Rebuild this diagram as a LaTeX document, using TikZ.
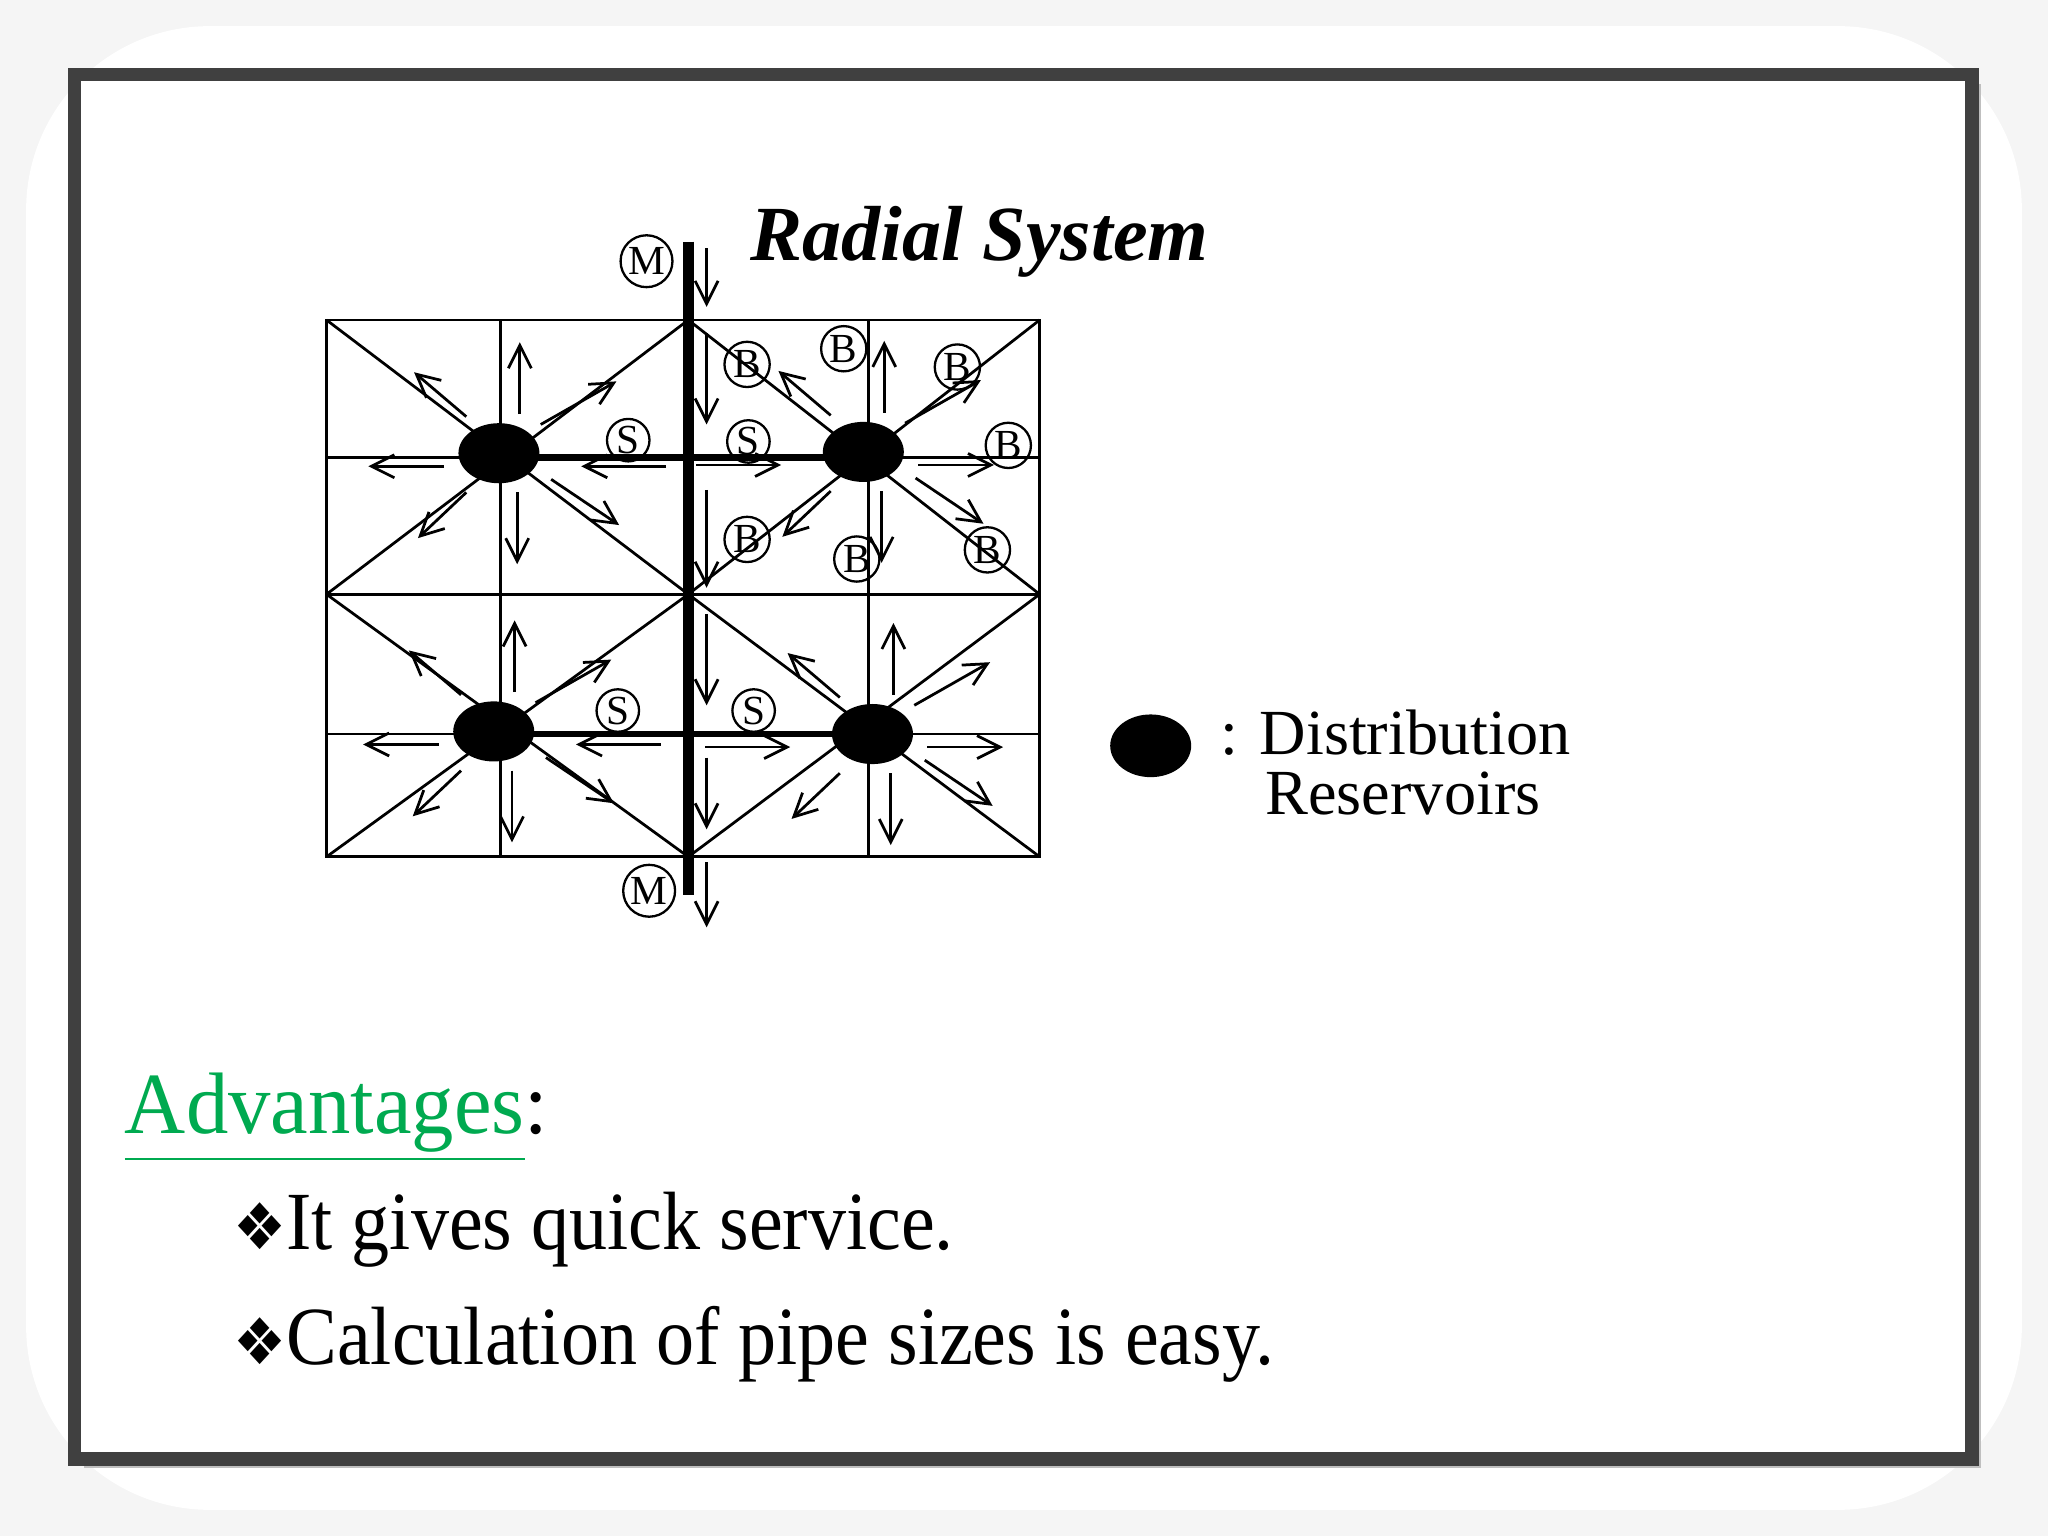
\documentclass[tikz,border=0pt]{standalone}
\usepackage{fontspec}
\usepackage{graphicx}
\setmainfont{Liberation Serif}
\newfontfamily\symf{DejaVu Sans}
\usetikzlibrary{arrows.meta}
\definecolor{advgreen}{RGB}{0,170,80}
\begin{document}
\begin{tikzpicture}[x=0.01cm,y=-0.01cm,
  grid/.style={line width=0.6pt},
  arr/.style={-{Straight Barb[length=5pt,width=5pt]},line width=0.6pt},
  lab/.style={circle,draw,line width=0.5pt,inner sep=0.5pt,font=\fontsize{9}{9}\selectfont}]
\useasboundingbox (0,0) rectangle (1568,1176);
\fill[gray!8] (0,0) rectangle (1568,1176);
\fill[white,rounded corners=40] (20,20) rectangle (1548,1156);
\fill[gray!50] (64,64) rectangle (1517,1124);
\draw[fill=white,line width=3pt,draw=black!75] (57,57) rectangle (1510,1117);
% grid
\draw[grid] (250,245) rectangle (796,656);
\foreach \x in {383,665} \draw[grid] (\x,245) -- (\x,656);
\foreach \y in {350,455,562} \draw[grid] (250,\y) -- (796,\y);
\foreach \xa/\xb/\ya/\yb in {250/527/245/455,527/796/245/455,250/527/455/656,527/796/455/656}{
  \draw[grid] (\xa,\ya) -- (\xb,\yb); \draw[grid] (\xb,\ya) -- (\xa,\yb);}
\draw[line width=2.5pt] (527,185) -- (527,685);
\draw[line width=1.5pt] (383,350) -- (665,350) (378,562) -- (668,562);
% reservoirs
\foreach \x/\y/\s in {382/347/1,661/346/-1,378/560/1,668/562/-1}{
  \fill (\x,\y) ellipse (31 and 23);
  \draw[arr] (\x+16,\y-30) -- (\x+16,\y-85);
  \draw[arr] (\x+14,\y+30) -- (\x+14,\y+85);
  \draw[arr] (\x-\s*42,\y+10) -- (\x-\s*100,\y+10);
  \draw[arr] (\x+\s*128,\y+10) -- (\x+\s*63,\y+10);
  \draw[arr] (\x-25,\y-28) -- (\x-65,\y-62);
  \draw[arr] (\x+32,\y-22) -- (\x+90,\y-55);
  \draw[arr] (\x-25,\y+30) -- (\x-62,\y+65);
  \draw[arr] (\x+40,\y+20) -- (\x+92,\y+55);}
\draw[arr] (541,190) -- (541,235);
\draw[arr] (541,660) -- (541,710);
\draw[arr] (541,255) -- (541,325);
\draw[arr] (541,375) -- (541,450);
\draw[arr] (541,470) -- (541,540);
\draw[arr] (541,580) -- (541,635);
\node[lab] at (495,200) {M};
\node[lab] at (497,682) {M};
\foreach \x/\y in {481/337,573/338,473/544,577/544} \node[lab] at (\x,\y) {S};
\foreach \x/\y in {572/279,646/267,733/281,772/341,572/413,656/428,756/421} \node[lab] at (\x,\y) {B};
\node[font=\fontsize{17}{17}\selectfont\bfseries\itshape] at (750,185) {Radial System};
\fill (881,571) ellipse (31 and 24);
\node[anchor=west,font=\fontsize{14}{13}\selectfont,align=left] at (922,584) {: Distribution\\\hspace{0.7em}Reservoirs};
\node[anchor=base west,font=\fontsize{19}{19}\selectfont,inner sep=0] at (95,868) {\scalebox{0.97}[1]{\textcolor{advgreen}{\underline{Advantages}}:}};
\node[anchor=base west,font=\fontsize{18}{18}\selectfont,inner sep=0] at (178,957) {\scalebox{0.92}[1]{{\symf\fontsize{14}{14}\selectfont ❖}It gives quick service.}};
\node[anchor=base west,font=\fontsize{18}{18}\selectfont,inner sep=0] at (178,1045) {\scalebox{0.92}[1]{{\symf\fontsize{14}{14}\selectfont ❖}Calculation of pipe sizes is easy.}};
\end{tikzpicture}
\end{document}
